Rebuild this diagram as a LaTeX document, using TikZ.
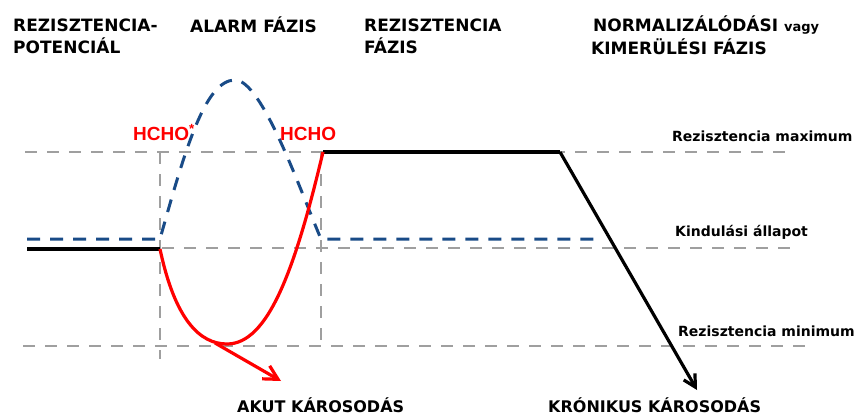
\documentclass[tikz,border=0pt]{standalone}
\usepackage{fontspec}
\setmainfont{DejaVu Sans}
\newfontfamily\hfont{Liberation Sans}
\usetikzlibrary{arrows.meta}
\tikzset{
  grid/.style={draw=gray!75, line width=1.3pt, dash pattern=on 12pt off 10pt},
  blk/.style={draw=black, line width=3.2pt},
  red/.style={draw=red, line width=3.2pt},
  blu/.style={draw={rgb,255:red,25;green,75;blue,135}, line width=3pt, dash pattern=on 13pt off 10pt},
  head/.style={anchor=base west, inner sep=0pt, font=\bfseries\fontsize{17}{19}\selectfont},
  foot/.style={anchor=base west, inner sep=0pt, font=\bfseries\fontsize{16}{18}\selectfont},
  lab/.style={anchor=base west, inner sep=0pt, font=\bfseries\fontsize{14}{16}\selectfont},
  hcho/.style={anchor=base west, inner sep=0pt, text=red, font=\hfont\bfseries\fontsize{19}{20}\selectfont},
}
\begin{document}
\begin{tikzpicture}[x=1pt,y=-1pt]
\useasboundingbox (0,0) rectangle (856,417);
% reference points
\coordinate (gmaxL) at (25,152);
\coordinate (gmaxR) at (785,152);
\coordinate (gstL) at (162,248);
\coordinate (gstR) at (797,248);
\coordinate (gminL) at (23,346);
\coordinate (gminR) at (810,346);
\coordinate (v1t) at (160,152);
\coordinate (v1b) at (160,359);
\coordinate (v2t) at (321,152);
\coordinate (v2b) at (321,346);
% grid
\draw[grid] (gmaxL) -- (gmaxR);
\draw[grid] (gstL) -- (gstR);
\draw[grid] (gminL) -- (gminR);
\draw[grid] (v1t) -- (v1b);
\draw[grid] (v2t) -- (v2b);
% blue dashed
\coordinate (b0) at (27,239);
\coordinate (b1) at (160,239);
\coordinate (bp) at (235,80);
\coordinate (b2) at (321,239);
\coordinate (b3) at (594,239);
\draw[blu] (b0) -- (b1) .. controls (185,150) and (205,80) .. (bp) .. controls (262,80) and (300,190) .. (b2) -- (b3);
% black
\coordinate (k0) at (27,249);
\coordinate (k1) at (160,249);
\coordinate (k2) at (323,152);
\coordinate (k3) at (560,152);
\coordinate (k4) at (697,390);
\draw[blk] (k0) -- (k1);
\draw[blk] (k2) -- (k3);
\draw[blk, -{Straight Barb[length=12pt,width=13pt]}] (k3) -- (k4);
% red
\coordinate (rb) at (227,344);
\coordinate (r1) at (215,343);
\coordinate (r2) at (281,381);
\draw[red] (k1) .. controls (175,320) and (200,344) .. (rb) .. controls (268,344) and (295,270) .. (k2);
\draw[red, -{Straight Barb[length=14pt,width=15pt]}] (r1) -- (r2);
% labels
\node[head] (t1) at (13,32) {REZISZTENCIA-};
\node[head] (t2) at (13,54) {POTENCIÁL};
\node[head] (t3) at (190,33) {ALARM FÁZIS};
\node[head] (t4) at (364,32) {REZISZTENCIA};
\node[head] (t5) at (364,54) {FÁZIS};
\node[head] (t6) at (593,32) {NORMALIZÁLÓDÁSI {\fontsize{13}{14}\selectfont vagy}};
\node[head] (t7) at (591,55) {KIMERÜLÉSI FÁZIS};
\node[lab] (l1) at (672,141) {Rezisztencia maximum};
\node[lab] (l2) at (675,236) {Kindulási állapot};
\node[lab] (l3) at (678,336) {Rezisztencia minimum};
\node[foot] (l4) at (237,412) {AKUT KÁROSODÁS};
\node[foot] (l5) at (548,412) {KRÓNIKUS KÁROSODÁS};
\node[hcho] (h1) at (133,140) {HCHO\textsuperscript{*}};
\node[hcho] (h2) at (280,140) {HCHO};
\end{tikzpicture}
\end{document}
